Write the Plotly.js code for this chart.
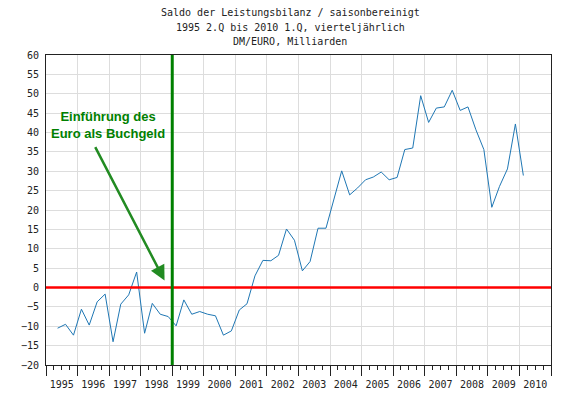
<!DOCTYPE html>
<html>
<head>
<meta charset="utf-8">
<script src="https://cdn.plot.ly/plotly-3.0.1.min.js"></script>
<style>
  html, body { margin: 0; padding: 0; background: #fff; }
  #chart { width: 566px; height: 396px; }
</style>
</head>
<body>
<div id="chart"></div>
<script>
// Quarters 1995 Q2 .. 2010 Q1
const startYear = 1995;
const startQuarter = 2;
// Saldo der Leistungsbilanz, saisonbereinigt (Mrd. DM/EURO)
const values = [
  -10.5, -9.5, -12.3,
  -5.6, -9.7, -3.7, -1.7,
  -14.0, -4.3, -1.9, 4.0,
  -11.8, -4.1, -6.9, -7.5,
  -9.9, -3.2, -6.9, -6.2,
  -6.9, -7.3, -12.3, -11.2,
  -5.8, -4.2, 3.0, 7.0,
  6.9, 8.3, 15.1, 12.2,
  4.3, 6.7, 15.3, 15.3,
  22.5, 30.1, 23.9, 25.7,
  27.8, 28.5, 29.8, 27.8,
  28.4, 35.6, 36.0, 49.5,
  42.6, 46.3, 46.6, 50.9,
  45.7, 46.6, 40.7, 35.6,
  20.7, 26.1, 30.6, 42.2,
  28.9
];
const titleLines = [
  "Saldo der Leistungsbilanz / saisonbereinigt",
  "1995 2.Q bis 2010 1.Q, vierteljährlich",
  "DM/EURO, Milliarden"
];
const noteText = "Einführung des<br>Euro als Buchgeld";
const euroDate = "1999-01-01";

// quarter mid dates
const midMonth = ["02", "05", "08", "11"];
const dates = values.map((v, i) => {
  const qi = (startQuarter - 1) + i;
  const y = startYear + Math.floor(qi / 4);
  const q = qi % 4;
  return y + "-" + midMonth[q] + "-15";
});

const mono = "DejaVu Sans Mono, monospace";

const trace = {
  x: dates,
  y: values,
  type: "scatter",
  mode: "lines",
  line: { color: "#1f77b4", width: 1 },
  hoverinfo: "skip",
  showlegend: false
};

// title lines as annotations (page y centres 13, 27.5, 42)
const titleY = [13, 27.5, 42];
const titleAnns = titleLines.map((t, i) => ({
  xref: "paper", yref: "paper",
  x: (290 - 46) / 505, y: (365 - titleY[i]) / 310,
  xanchor: "center", yanchor: "middle",
  text: t, showarrow: false,
  font: { family: mono, size: 10, color: "#222" }
}));

const layout = {
  width: 566,
  height: 396,
  margin: { l: 46, r: 15, t: 55, b: 31 },
  paper_bgcolor: "#ffffff",
  plot_bgcolor: "#ffffff",
  showlegend: false,
  xaxis: {
    type: "date",
    range: ["1995-01-01", "2011-01-01"],
    tick0: "1995-01-01",
    dtick: "M12",
    tickformat: "%Y",
    ticklabelmode: "period",
    ticks: "outside",
    ticklen: 10,
    tickwidth: 1,
    tickcolor: "#222",
    tickfont: { family: mono, size: 10, color: "#222" },
    showgrid: true,
    gridcolor: "#dddddd",
    gridwidth: 1,
    minor: { dtick: "M3", ticks: "outside", ticklen: 4, tickcolor: "#222", tickwidth: 1, showgrid: false },
    showline: true,
    linecolor: "#222",
    linewidth: 1,
    mirror: true,
    zeroline: false,
    fixedrange: true
  },
  yaxis: {
    range: [-20, 60],
    dtick: 5,
    tick0: 0,
    ticks: "outside",
    ticklen: 4,
    tickcolor: "rgba(0,0,0,0)",
    tickfont: { family: mono, size: 10, color: "#222" },
    showgrid: true,
    gridcolor: "#dddddd",
    gridwidth: 1,
    showline: true,
    linecolor: "#222",
    linewidth: 1,
    mirror: true,
    zeroline: false,
    fixedrange: true
  },
  shapes: [
    { type: "line", xref: "paper", x0: 0, x1: 1, yref: "y", y0: 0, y1: 0,
      line: { color: "#ff0000", width: 2.5 } },
    { type: "line", xref: "x", x0: euroDate, x1: euroDate, yref: "paper", y0: 0, y1: 1,
      line: { color: "#008000", width: 3 } }
  ],
  annotations: titleAnns.concat([
    { xref: "paper", yref: "paper", x: (108 - 46) / 505, y: (365 - 125) / 310,
      xanchor: "center", yanchor: "middle", text: noteText, showarrow: false,
      font: { family: "Liberation Sans, Arial, sans-serif", size: 13, color: "#008000", weight: "bold" },
      align: "center" },
    { xref: "x", yref: "y", x: "1998-10-04", y: 1.8,
      axref: "x", ayref: "y", ax: "1996-07-15", ay: 36.6,
      text: "", showarrow: true, arrowhead: 2, arrowsize: 1.2, arrowwidth: 2.5,
      arrowcolor: "#228b22", standoff: 0 }
  ])
};

Plotly.newPlot("chart", [trace], layout, { staticPlot: true, displayModeBar: false });
</script>
</body>
</html>
